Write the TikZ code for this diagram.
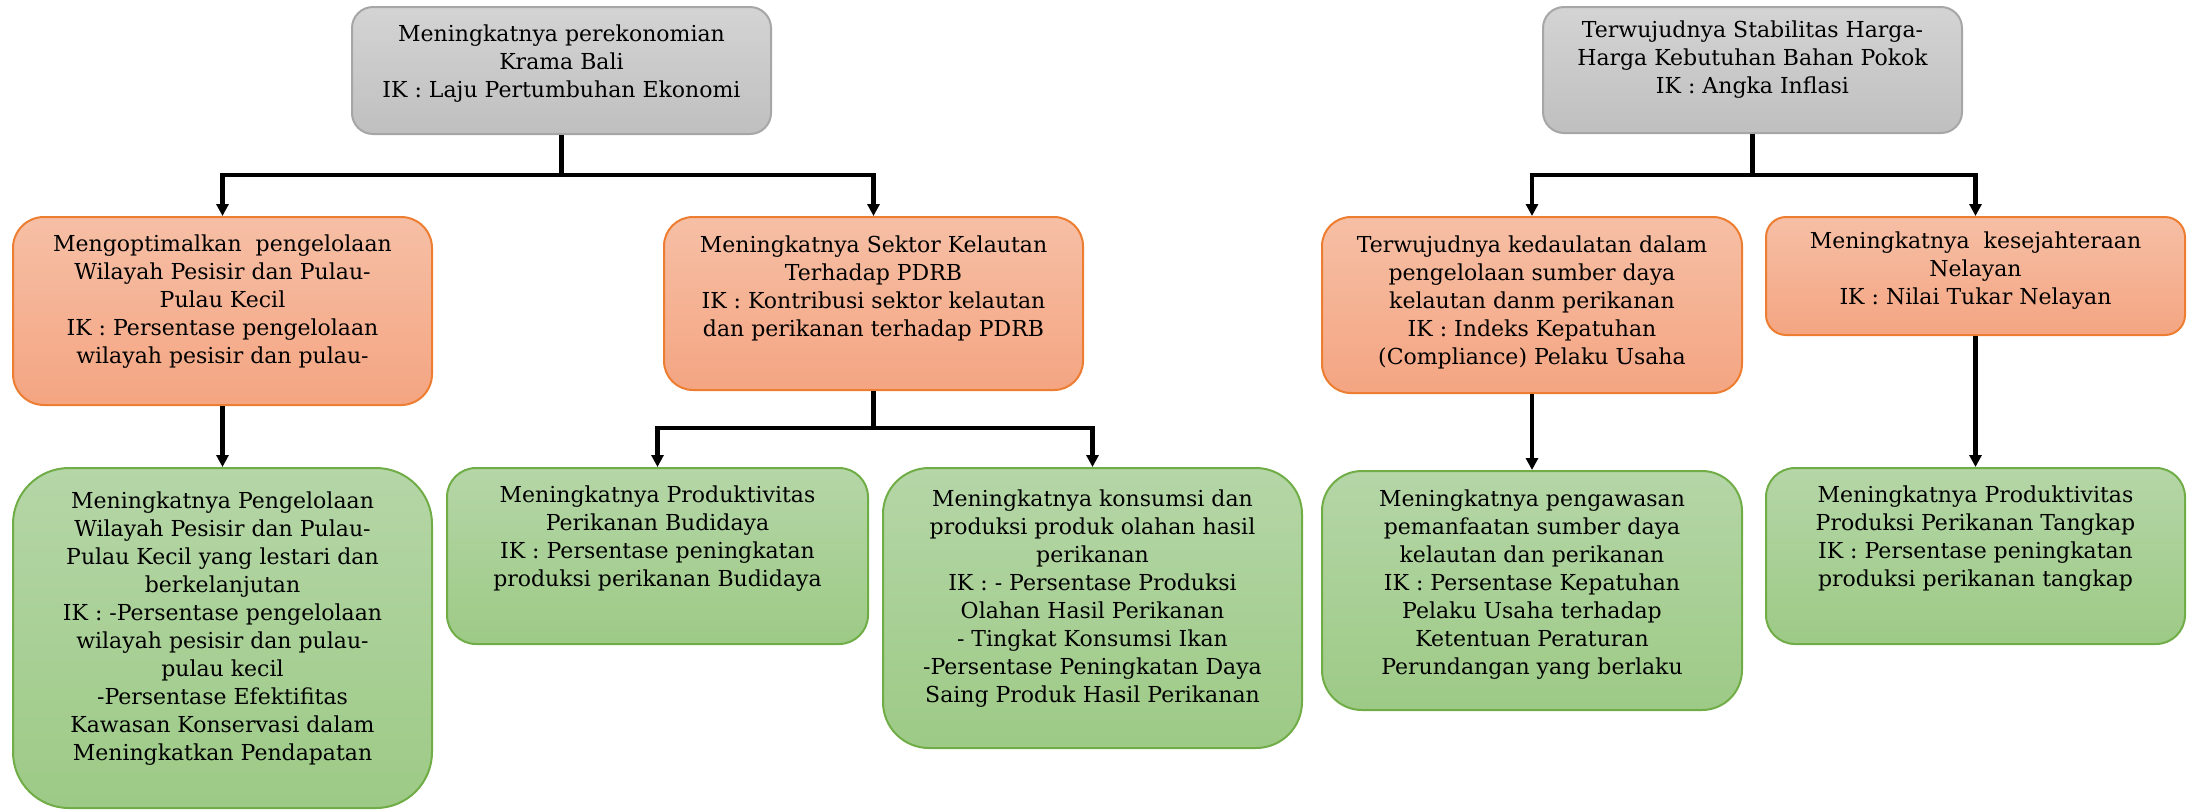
\documentclass[tikz,border=0pt]{standalone}
\usepackage{fontspec}
\setmainfont{DejaVu Serif}
\usetikzlibrary{arrows.meta}
\tikzset{
  x=0.5pt, y=-0.5pt,
  box/.style={draw, line width=1pt, inner sep=0pt},
  gbox/.style={box, draw=black!35, top color=black!17, bottom color=black!25},
  obox/.style={box, draw=orangeB, top color=orangeT, bottom color=orangeM},
  grbox/.style={box, draw=greenB, top color=greenT, bottom color=greenM},
  txt/.style={align=center, font=\fontsize{11}{14}\selectfont, inner sep=0pt},
  conn/.style={line width=2.1pt, -{Triangle[length=6pt,width=6pt]}}
}
\definecolor{orangeB}{HTML}{ED7D31}
\definecolor{orangeT}{HTML}{F6BFA5}
\definecolor{orangeM}{HTML}{F4A582}
\definecolor{greenB}{HTML}{70AD47}
\definecolor{greenT}{HTML}{B5D6A7}
\definecolor{greenM}{HTML}{9DCA86}
\begin{document}
\begin{tikzpicture}
\useasboundingbox (0,0) rectangle (2191,811);
% top level
\node[gbox, minimum width=209.5pt, minimum height=63.5pt, rounded corners=10.5pt] (gL) at (561.5,70.5) {};
\node[txt] (gLt) at (561.5,63.6) {Meningkatnya perekonomian\\Krama Bali\\IK : Laju Pertumbuhan Ekonomi};
\node[gbox, minimum width=209.5pt, minimum height=63pt, rounded corners=10.5pt] (gR) at (1752.5,70) {};
\node[txt] (gRt) at (1752.5,60) {Terwujudnya Stabilitas Harga-\\Harga Kebutuhan Bahan Pokok\\IK : Angka Inflasi};
% second level
\node[obox, minimum width=209.5pt, minimum height=94pt, rounded corners=15.5pt] (o1) at (222.5,311) {};
\node[txt] (o1t) at (222.5,302) {Mengoptimalkan\ \ pengelolaan\\Wilayah Pesisir dan Pulau-\\Pulau Kecil\\IK : Persentase pengelolaan\\wilayah pesisir dan pulau-};
\node[obox, minimum width=209.5pt, minimum height=86.5pt, rounded corners=14.5pt] (o2) at (873.5,303.5) {};
\node[txt] (o2t) at (873.5,288.5) {Meningkatnya Sektor Kelautan\\Terhadap PDRB\\IK : Kontribusi sektor kelautan\\dan perikanan terhadap PDRB};
\node[obox, minimum width=210pt, minimum height=88pt, rounded corners=14.5pt] (o3) at (1532,305) {};
\node[txt] (o3t) at (1532,302) {Terwujudnya kedaulatan dalam\\pengelolaan sumber daya\\kelautan danm perikanan\\IK : Indeks Kepatuhan\\(Compliance) Pelaku Usaha};
\node[obox, minimum width=209.5pt, minimum height=59pt, rounded corners=10pt] (o4) at (1975.5,276) {};
\node[txt] (o4t) at (1975.5,271) {Meningkatnya\ \ kesejahteraan\\Nelayan\\IK : Nilai Tukar Nelayan};
% third level
\node[grbox, minimum width=209.5pt, minimum height=170pt, rounded corners=28pt] (G1) at (222.5,638) {};
\node[txt] (G1t) at (222.5,629) {Meningkatnya Pengelolaan\\Wilayah Pesisir dan Pulau-\\Pulau Kecil yang lestari dan\\berkelanjutan\\IK : -Persentase pengelolaan\\wilayah pesisir dan pulau-\\pulau kecil\\-Persentase Efektifitas\\Kawasan Konservasi dalam\\Meningkatkan Pendapatan};
\node[grbox, minimum width=210.5pt, minimum height=88pt, rounded corners=14.5pt] (G2) at (657.5,556) {};
\node[txt] (G2t) at (657.5,539) {Meningkatnya Produktivitas\\Perikanan Budidaya\\IK : Persentase peningkatan\\produksi perikanan Budidaya};
\node[grbox, minimum width=209.5pt, minimum height=140pt, rounded corners=23pt] (G3) at (1092.5,608) {};
\node[txt] (G3t) at (1092.5,599) {Meningkatnya konsumsi dan\\produksi produk olahan hasil\\perikanan\\IK : - Persentase Produksi\\Olahan Hasil Perikanan\\- Tingkat Konsumsi Ikan\\-Persentase Peningkatan Daya\\Saing Produk Hasil Perikanan};
\node[grbox, minimum width=210pt, minimum height=119.5pt, rounded corners=20pt] (G4) at (1532,590.5) {};
\node[txt] (G4t) at (1532,585) {Meningkatnya pengawasan\\pemanfaatan sumber daya\\kelautan dan perikanan\\IK : Persentase Kepatuhan\\Pelaku Usaha terhadap\\Ketentuan Peraturan\\Perundangan yang berlaku};
\node[grbox, minimum width=209.5pt, minimum height=88pt, rounded corners=14.5pt] (G5) at (1975.5,556) {};
\node[txt] (G5t) at (1975.5,539) {Meningkatnya Produktivitas\\Produksi Perikanan Tangkap\\IK : Persentase peningkatan\\produksi perikanan tangkap};
% junctions
\coordinate (jL) at (561.5,175);
\coordinate (jR) at (1752.5,175);
\coordinate (jM) at (873.5,428);
% connectors
\draw[conn] (gL.south) -- (jL) -| (o1.north);
\draw[conn] (jL) -| (o2.north);
\draw[conn] (gR.south) -- (jR) -| (o3.north);
\draw[conn] (jR) -| (o4.north);
\draw[conn] (o2.south) -- (jM) -| (G2.north);
\draw[conn] (jM) -| (G3.north);
\draw[conn] (o1.south) -- (G1.north);
\draw[conn] (o3.south) -- (G4.north);
\draw[conn] (o4.south) -- (G5.north);
\end{tikzpicture}
\end{document}
